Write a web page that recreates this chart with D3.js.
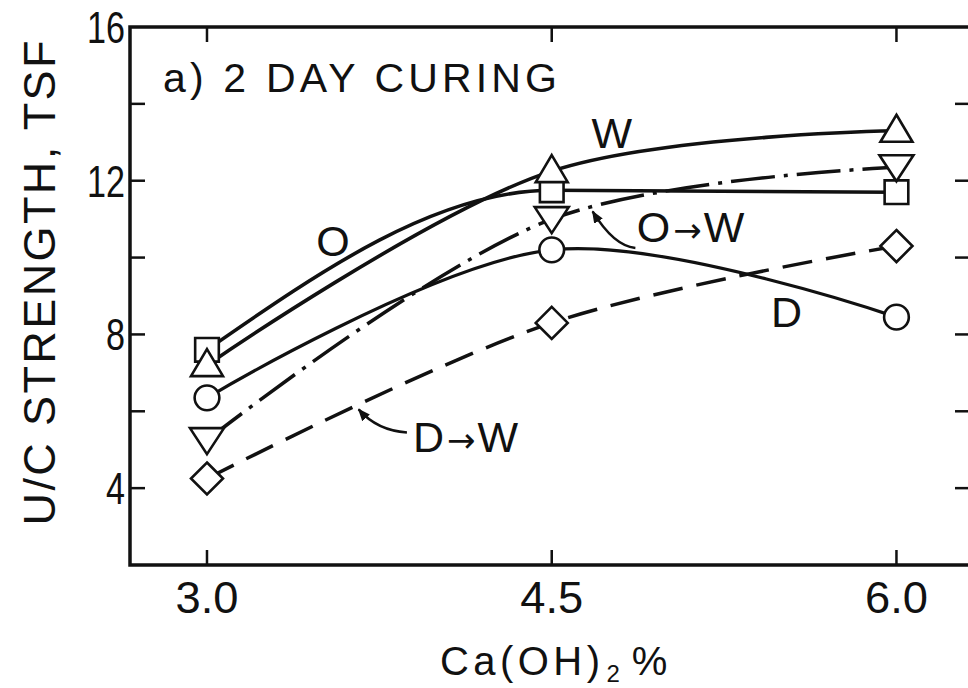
<!DOCTYPE html>
<html>
<head>
<meta charset="utf-8">
<script src="https://cdn.jsdelivr.net/npm/d3@7"></script>
<style>
  html, body { margin: 0; padding: 0; background: #fff; }
  svg { display: block; }
  text { font-family: "Liberation Sans Narrow", "Liberation Sans", "DejaVu Sans Condensed", sans-serif; fill: #111; }
</style>
</head>
<body>
<svg id="chart" width="968" height="688"></svg>
<script>
// Ca(OH)2 content, percent
const limeContent = [3.0, 4.5, 6.0];
const xTickLabels = ["3.0", "4.5", "6.0"];
const yTickLabels = [4, 8, 12, 16];
const yMinorTicks = [4, 6, 8, 10, 12, 14];

// Unconfined compressive strength (TSF) after 2 days of curing, per moisture condition
const strengthW   = [7.2, 12.25, 13.3];   // wet
const strengthO   = [7.6, 11.75, 11.7];   // optimum
const strengthD   = [6.35, 10.2, 8.45];   // dry
const strengthOW  = [5.25, 11.0, 12.35];  // optimum, then wetted
const strengthDW  = [4.25, 8.3, 10.3];    // dry, then wetted

const W = 968, H = 688;
const svg = d3.select("#chart");
svg.append("rect").attr("width", W).attr("height", H).attr("fill", "#fff");

const x = d3.scaleLinear().domain([2.665, 6.32]).range([130, 970]);
const y = d3.scaleLinear().domain([2, 16]).range([565, 27]);

const ink = "#111";

// ---- frame and ticks ----
const frame = svg.append("g");
frame.append("path")
  .attr("d", `M${x(6.32)},${y(16)}H${x(2.665)}V${y(2)}H${x(6.32)}`)
  .attr("fill", "none").attr("stroke", ink).attr("stroke-width", 3.5);

const tl = 15;
// left and right ticks (inward)
frame.selectAll(".tl").data(yMinorTicks).join("line")
  .attr("x1", x(2.665)).attr("x2", x(2.665) + tl)
  .attr("y1", d => y(d)).attr("y2", d => y(d))
  .attr("stroke", ink).attr("stroke-width", 2.5);
frame.selectAll(".tr").data(yMinorTicks).join("line")
  .attr("x1", x(6.32)).attr("x2", x(6.32) - tl)
  .attr("y1", d => y(d)).attr("y2", d => y(d))
  .attr("stroke", ink).attr("stroke-width", 2.5);
// top and bottom ticks (inward)
frame.selectAll(".tt").data(limeContent).join("line")
  .attr("x1", d => x(d)).attr("x2", d => x(d))
  .attr("y1", y(16)).attr("y2", y(16) + tl)
  .attr("stroke", ink).attr("stroke-width", 2.5);
frame.selectAll(".tb").data(limeContent).join("line")
  .attr("x1", d => x(d)).attr("x2", d => x(d))
  .attr("y1", y(2)).attr("y2", y(2) - tl)
  .attr("stroke", ink).attr("stroke-width", 2.5);

// tick labels (tall, narrow digits)
svg.selectAll(".yl").data(yTickLabels).join("text")
  .attr("x", x(2.665) - 5).attr("y", d => y(d) + 16)
  .attr("text-anchor", "end").attr("font-size", 45)
  .attr("textLength", d => String(d).length * 19)
  .attr("lengthAdjust", "spacingAndGlyphs")
  .text(d => d);
svg.selectAll(".xl").data(limeContent).join("text")
  .attr("x", d => x(d)).attr("y", 613)
  .attr("text-anchor", "middle").attr("font-size", 45)
  .attr("textLength", 63).attr("lengthAdjust", "spacingAndGlyphs")
  .text((d, i) => xTickLabels[i]);

// axis titles
svg.append("text")
  .attr("transform", `translate(55,${283}) rotate(-90)`)
  .attr("text-anchor", "middle").attr("font-size", 45)
  .attr("textLength", 485).attr("lengthAdjust", "spacing")
  .text("U/C STRENGTH, TSF");

const xt = svg.append("text").attr("x", 440).attr("y", 675).attr("font-size", 40);
xt.append("tspan").text("Ca(OH)").attr("textLength", 160).attr("lengthAdjust", "spacing");
xt.append("tspan").attr("font-size", 24).attr("dy", 7).attr("dx", 2).text("2");
xt.append("tspan").attr("dy", -7).attr("dx", 12).text("%");

// panel title
svg.append("text")
  .attr("x", 163).attr("y", 92).attr("font-size", 41)
  .attr("textLength", 394).attr("lengthAdjust", "spacing")
  .text("a) 2 DAY CURING");

// ---- curves ----
const pts = vals => limeContent.map((c, i) => [c, vals[i]]);
const smooth = d3.line().x(d => x(d[0])).y(d => y(d[1])).curve(d3.curveCatmullRom.alpha(0.5));
const mono = d3.line().x(d => x(d[0])).y(d => y(d[1])).curve(d3.curveMonotoneX);

const curves = svg.append("g").attr("fill", "none").attr("stroke", ink).attr("stroke-linecap", "butt");
curves.append("path").attr("d", smooth(pts(strengthDW))).attr("stroke-width", 3.5)
  .attr("stroke-dasharray", "30 14");
curves.append("path").attr("d", smooth(pts(strengthOW))).attr("stroke-width", 3.5)
  .attr("stroke-dasharray", "44 9 4 9");
curves.append("path").attr("d", smooth(pts(strengthD))).attr("stroke-width", 3.2);
curves.append("path").attr("d", mono(pts(strengthO))).attr("stroke-width", 3.6);
curves.append("path").attr("d", smooth(pts(strengthW))).attr("stroke-width", 3.6);

// ---- markers ----
const mk = svg.append("g").attr("fill", "#fff").attr("stroke", ink).attr("stroke-width", 2.6)
  .attr("stroke-linejoin", "miter");
const square = d3.symbol().type(d3.symbolSquare).size(560);
const circle = d3.symbol().type(d3.symbolCircle).size(480);
mk.selectAll(".sq").data(pts(strengthO)).join("path")
  .attr("transform", d => `translate(${x(d[0])},${y(d[1])})`).attr("d", square);
mk.selectAll(".tu").data(pts(strengthW)).join("path")
  .attr("transform", d => `translate(${x(d[0])},${y(d[1])})`)
  .attr("d", "M0,-16L16,11H-16Z");
mk.selectAll(".ci").data(pts(strengthD)).join("path")
  .attr("transform", d => `translate(${x(d[0])},${y(d[1])})`).attr("d", circle);
mk.selectAll(".td").data(pts(strengthOW)).join("path")
  .attr("transform", d => `translate(${x(d[0])},${y(d[1])})`)
  .attr("d", "M0,14L17,-12H-17Z");
mk.selectAll(".di").data(pts(strengthDW)).join("path")
  .attr("transform", d => `translate(${x(d[0])},${y(d[1])})`)
  .attr("d", "M0,-16L16,0L0,16L-16,0Z");

// ---- curve labels ----
const labels = [
  { t: ["W"], cx: 4.761, cy: 12.85, anchor: "middle" },
  { t: ["O"], cx: 3.548, cy: 10.04, anchor: "middle" },
  { t: ["D"], cx: 5.522, cy: 8.19, anchor: "middle" },
  { t: ["O", "\u2192", "W"], cx: 4.87, cy: 10.4, anchor: "start" },
  { t: ["D", "\u2192", "W"], cx: 3.896, cy: 4.94, anchor: "start" }
];
labels.forEach(l => {
  const t = svg.append("text").attr("x", x(l.cx)).attr("y", y(l.cy))
    .attr("text-anchor", l.anchor).attr("font-size", 43);
  l.t.forEach((s, i) => {
    const sp = t.append("tspan").text(s);
    if (s === "\u2192") sp.attr("font-family", "DejaVu Sans").attr("font-size", 34).attr("dx", 3);
    else if (i > 0) sp.attr("dx", 2);
  });
});

// pointer arrows from the two-step labels to their curves
svg.append("defs").append("marker")
  .attr("id", "tip").attr("viewBox", "0 0 10 10").attr("refX", 9).attr("refY", 5)
  .attr("markerWidth", 5).attr("markerHeight", 5).attr("orient", "auto")
  .append("path").attr("d", "M0,1L10,5L0,9Z").attr("fill", ink);

const pointers = [
  { from: [4.864, 10.25], ctrl: [4.77, 10.3], to: [4.678, 11.2] },
  { from: [3.87, 5.45], ctrl: [3.74, 5.5], to: [3.66, 6.05] }
];
pointers.forEach(p => {
  svg.append("path")
    .attr("d", `M${x(p.from[0])},${y(p.from[1])}Q${x(p.ctrl[0])},${y(p.ctrl[1])} ${x(p.to[0])},${y(p.to[1])}`)
    .attr("fill", "none").attr("stroke", ink).attr("stroke-width", 2.5)
    .attr("marker-end", "url(#tip)");
});
</script>
</body>
</html>
